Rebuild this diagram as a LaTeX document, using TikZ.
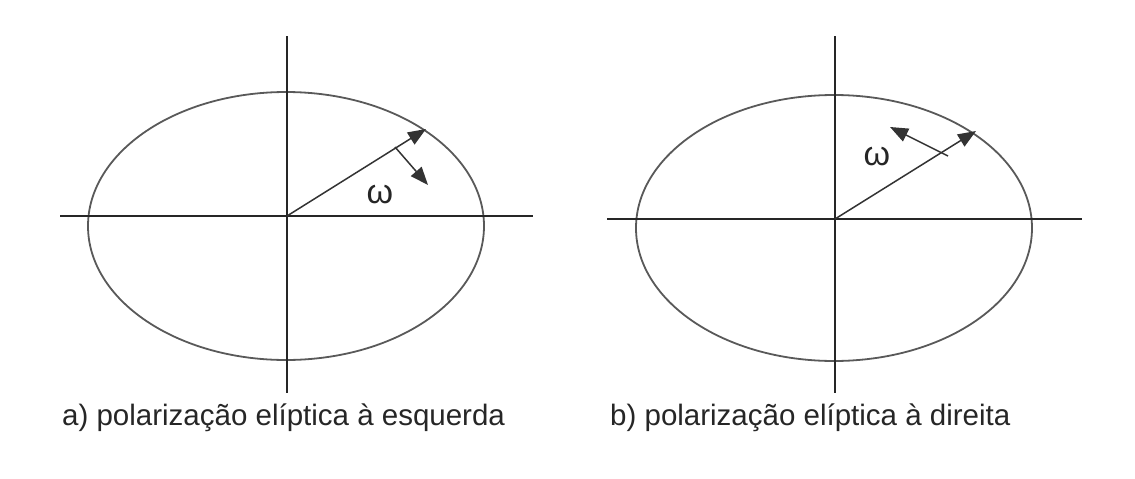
\documentclass[tikz,border=0pt]{standalone}
\usepackage{fontspec}
\setmainfont{Liberation Sans}
\usetikzlibrary{arrows.meta}
\begin{document}
\begin{tikzpicture}[x=1pt,y=-1pt,
  axis/.style={line width=2.3pt,draw=black!85},
  ell/.style={line width=1.8pt,draw=black!65},
  vec/.style={line width=1.5pt,draw=black!80,-{Triangle[length=18pt,width=14pt]}},
  captext/.style={font=\fontsize{29.5}{32}\selectfont,anchor=base west,inner sep=0pt,text=black!85},
  om/.style={font=\fontsize{34}{34}\selectfont,inner sep=0pt,text=black!85}]
\useasboundingbox (0,0) rectangle (1135,479);
% ---- left
\coordinate (oa) at (287,216);
\draw[ell] (286,226) ellipse [x radius=198, y radius=134];
\draw[axis] (60,216) -- (533,216);
\draw[axis] (287,36) -- (287,393);
\coordinate (ta) at (426,129);
\coordinate (pa1) at (395,147);
\coordinate (pa2) at (428,185);
\draw[vec] (oa) -- (ta);
\draw[vec] (pa1) -- (pa2);
\node[om] (wa) at (380,195) {ω};
\node[captext] (ca) at (62,425) {a) polarização elíptica à esquerda};
% ---- right
\coordinate (ob) at (835,219);
\draw[ell] (834,228) ellipse [x radius=198, y radius=133];
\draw[axis] (607,219) -- (1082,219);
\draw[axis] (835,36) -- (835,393);
\coordinate (tb) at (976,131);
\coordinate (pb1) at (948,156);
\coordinate (pb2) at (890,127);
\draw[vec] (ob) -- (tb);
\draw[vec] (pb1) -- (pb2);
\node[om] (wb) at (877,157) {ω};
\node[captext] (cb) at (610,425) {b) polarização elíptica à direita};
\end{tikzpicture}
\end{document}
